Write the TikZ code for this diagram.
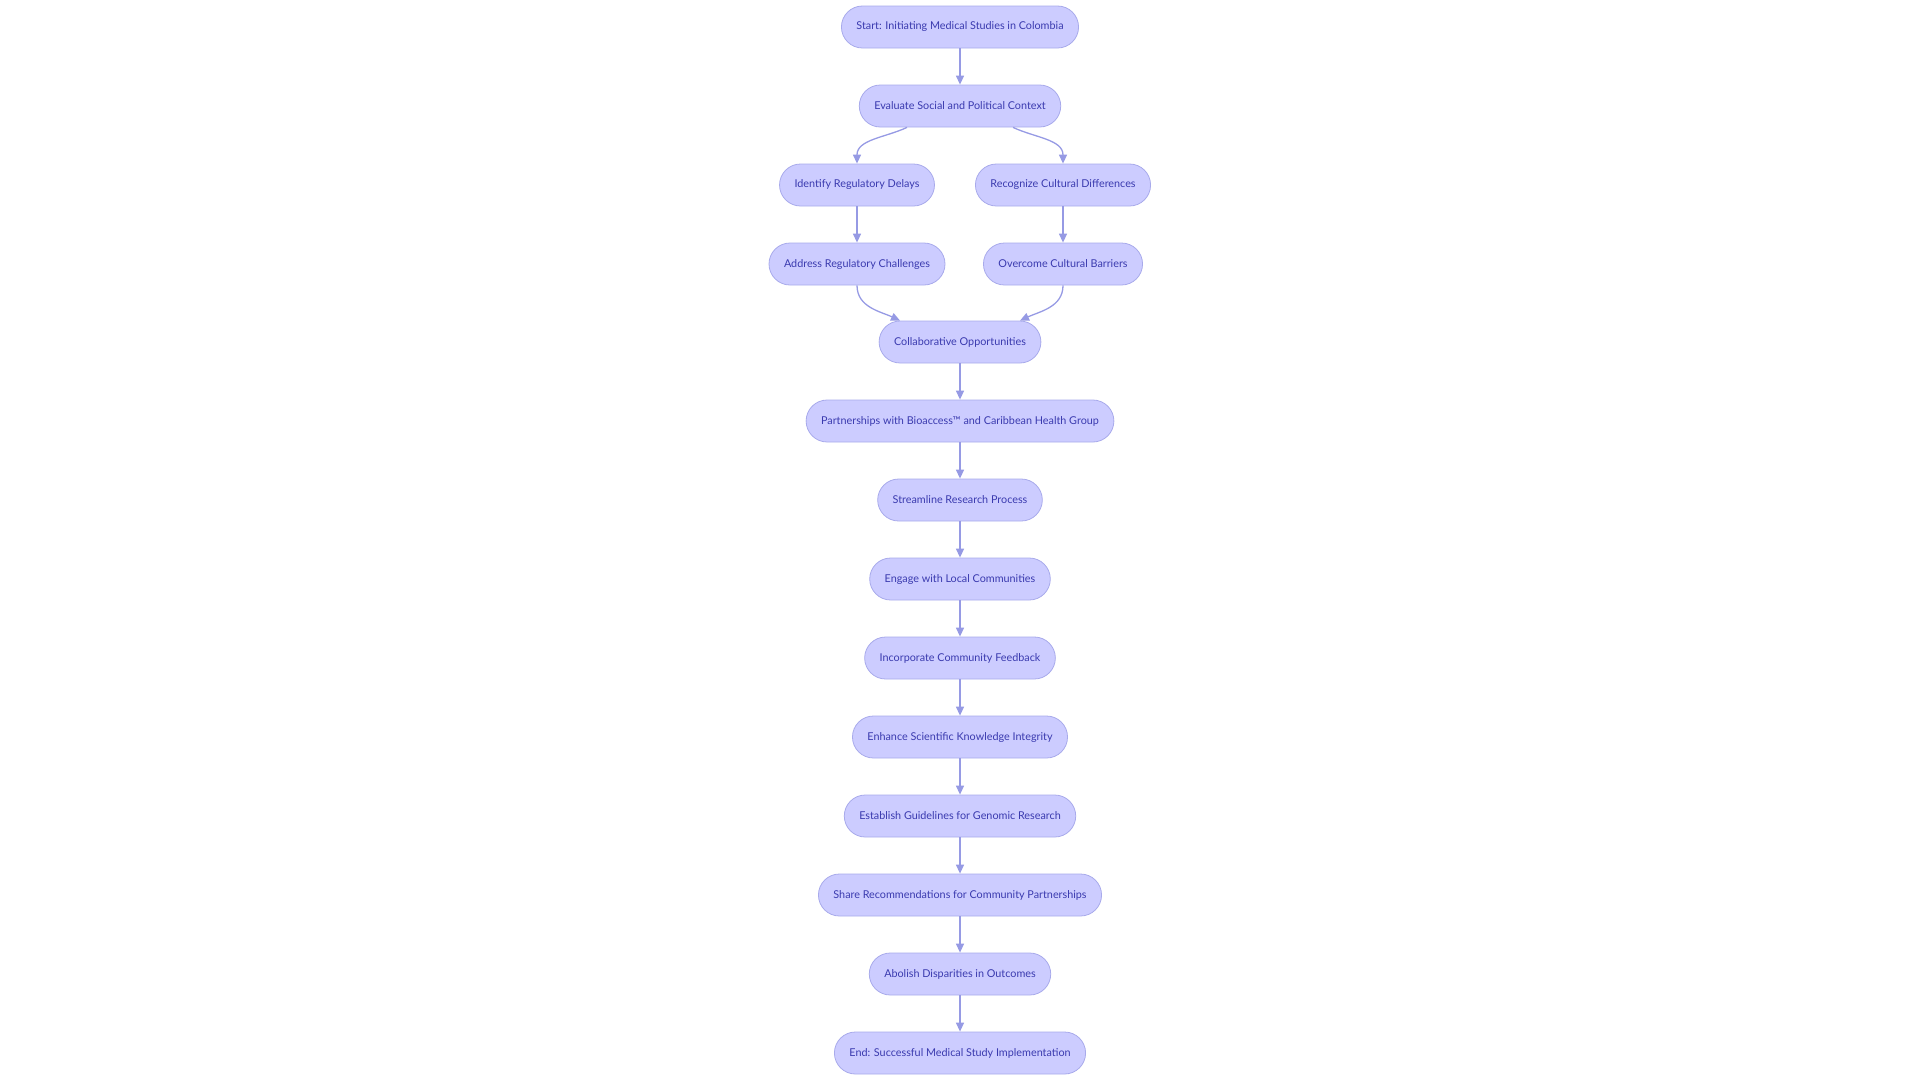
\documentclass[tikz,border=0pt]{standalone}
\usepackage{fontspec}
\setmainfont{Lato}
\usepackage{xcolor}
\usepackage{tikz}
\usetikzlibrary{arrows.meta,positioning}

\definecolor{stepfill}{RGB}{204,204,255}
\definecolor{stepline}{RGB}{168,170,235}
\definecolor{steptext}{RGB}{58,58,175}
\definecolor{flowline}{RGB}{150,154,228}

\tikzset{
    stepbox/.style={draw=stepline, fill=stepfill, line width=0.8pt, rounded corners=21pt,
        minimum height=42pt, inner xsep=15pt, text=steptext,
        font=\fontsize{10.8}{13}\selectfont},
    flow/.style={draw=flowline, line width=1.3pt, -{Triangle[length=9pt,width=8pt]}}
}

\begin{document}
\begin{tikzpicture}[x=1pt, y=1pt, node distance=79pt]
    \useasboundingbox (0,0) rectangle (1920,-1080);
    % Steps
    \node[stepbox] (start) at (960,-27) {Start: Initiating Medical Studies in Colombia};
    \node[stepbox, below of=start] (context) {Evaluate Social and Political Context};
    \node[stepbox, below of=context, xshift=-103pt] (delays) {Identify Regulatory Delays};
    \node[stepbox, below of=context, xshift=103pt] (culture) {Recognize Cultural Differences};
    \node[stepbox, below of=delays] (regulatory) {Address Regulatory Challenges};
    \node[stepbox, below of=culture] (barriers) {Overcome Cultural Barriers};
    \node[stepbox] (collab) at (960,-342) {Collaborative Opportunities};
    \node[stepbox, below of=collab] (partners) {Partnerships with Bioaccess™ and Caribbean Health Group};
    \node[stepbox, below of=partners] (streamline) {Streamline Research Process};
    \node[stepbox, below of=streamline] (engage) {Engage with Local Communities};
    \node[stepbox, below of=engage] (feedback) {Incorporate Community Feedback};
    \node[stepbox, below of=feedback] (integrity) {Enhance Scientific Knowledge Integrity};
    \node[stepbox, below of=integrity] (guidelines) {Establish Guidelines for Genomic Research};
    \node[stepbox, below of=guidelines] (share) {Share Recommendations for Community Partnerships};
    \node[stepbox, below of=share] (abolish) {Abolish Disparities in Outcomes};
    \node[stepbox, below of=abolish] (end) {End: Successful Medical Study Implementation};

    % Connections
    \draw[flow] (start) -- (context);
    \draw[flow] ([xshift=-53pt]context.south) to[out=-155, in=90] (delays.north);
    \draw[flow] ([xshift=53pt]context.south) to[out=-25, in=90] (culture.north);
    \draw[flow] (delays) -- (regulatory);
    \draw[flow] (culture) -- (barriers);
    \draw[flow] (regulatory.south) to[out=-90, in=155] ([xshift=-60pt]collab.north);
    \draw[flow] (barriers.south) to[out=-90, in=25] ([xshift=60pt]collab.north);
    \draw[flow] (collab) -- (partners);
    \draw[flow] (partners) -- (streamline);
    \draw[flow] (streamline) -- (engage);
    \draw[flow] (engage) -- (feedback);
    \draw[flow] (feedback) -- (integrity);
    \draw[flow] (integrity) -- (guidelines);
    \draw[flow] (guidelines) -- (share);
    \draw[flow] (share) -- (abolish);
    \draw[flow] (abolish) -- (end);
\end{tikzpicture}
\end{document}
